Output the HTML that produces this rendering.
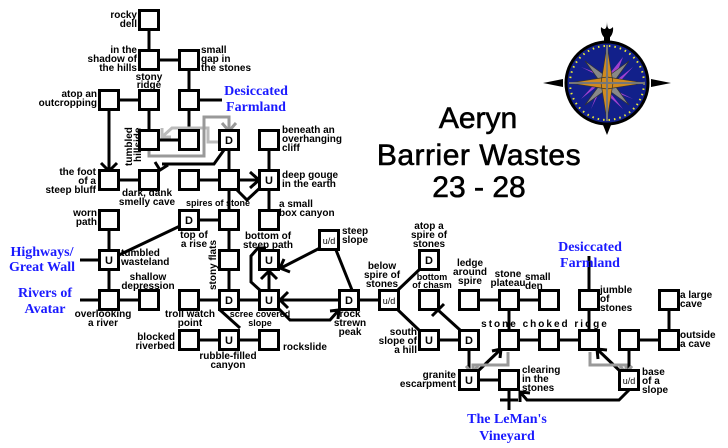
<!DOCTYPE html>
<html><head><meta charset="utf-8"><style>
html,body{margin:0;padding:0;background:#fff;}
svg{display:block;}
.t{font-family:"Liberation Sans",sans-serif;font-weight:bold;font-size:10px;fill:#000;}
.b{font-family:"Liberation Serif",serif;font-weight:bold;font-size:14px;fill:#1a1aff;}
.ti{font-family:"Liberation Sans",sans-serif;font-size:30px;fill:#000;stroke:#000;stroke-width:0.6;}
.bx{fill:#fff;stroke:#000;stroke-width:3;}
.bl{font-family:"Liberation Sans",sans-serif;font-weight:bold;font-size:11px;}
</style></head><body>
<svg width="728" height="448" viewBox="0 0 728 448" xmlns="http://www.w3.org/2000/svg">
<g fill="none" stroke="#000" stroke-width="3" stroke-linejoin="miter">
<path d="M149 20V60M149 60H189M189 60V140M189 100H222M109 100H149M149 100V140M149 140H189"/>
<path d="M109 100V172M101 163L109 171L117 163"/>
<path d="M224 150L214 164H162M155 162L160 170L168 165"/>
<path d="M229 140V300M269 140V220M109 180H149M189 180H258M250 172L259 180L250 188M237 190L247 200L262 186"/>
<path d="M189 220H229M109 220V300M119 255L180 226M80 260H109M80 300H149M189 300H269"/>
<path d="M269 300V271M261 279L269 271L277 279M280 300H389M288 292L280 300L288 308"/>
<path d="M262 292L251 282V256L258 248H266M278 308L290 320H330L338 311M330 311L339 310L338 319"/>
<path d="M320 248L281 268M284 259L280 268L290 272M336 250L352 290"/>
<path d="M220 310L240 328M189 340H269"/>
<path d="M360 300H389M398 290L421 268M398 310L421 332M429 340H469M460 330L438 310M432 316L444 304"/>
<path d="M469 300H549M509 300V340M509 340H589M589 340V256M629 340H669M669 300V340M629 340V380M469 340V380M469 380H509"/>
<path d="M477 372L500 350M492 351L501 349L500 358"/>
<path d="M622 373L598 350M598 359L597 349L607 350"/>
<path d="M629 390L619 400H527L521 393M520 402L520 392L530 393"/>
<path d="M509 380V410M500 400H518"/>
</g>
<g fill="none" stroke-width="3">
<path stroke="#bbb" d="M219 142H208V128H172L163 136M162 128L162 137L171 137"/>
<path stroke="#999" d="M149 150V156H204V117H229V129M222 123L229 131L236 123"/>
<path stroke="#999" d="M508 352V365H473V372M466 366L472 373L478 366"/>
<path stroke="#999" d="M590 352V365H626V372M620 366L626 373L632 366"/>
</g>
<g>
<rect class="bx" x="139.5" y="10.5" width="19" height="19"/>
<rect class="bx" x="139.5" y="50.5" width="19" height="19"/>
<rect class="bx" x="179.5" y="50.5" width="19" height="19"/>
<rect class="bx" x="99.5" y="90.5" width="19" height="19"/>
<rect class="bx" x="139.5" y="90.5" width="19" height="19"/>
<rect class="bx" x="179.5" y="90.5" width="19" height="19"/>
<rect class="bx" x="139.5" y="130.5" width="19" height="19"/>
<rect class="bx" x="179.5" y="130.5" width="19" height="19"/>
<rect class="bx" x="219.5" y="130.5" width="19" height="19"/>
<rect class="bx" x="259.5" y="130.5" width="19" height="19"/>
<rect class="bx" x="99.5" y="170.5" width="19" height="19"/>
<rect class="bx" x="139.5" y="170.5" width="19" height="19"/>
<rect class="bx" x="179.5" y="170.5" width="19" height="19"/>
<rect class="bx" x="219.5" y="170.5" width="19" height="19"/>
<rect class="bx" x="259.5" y="170.5" width="19" height="19"/>
<rect class="bx" x="99.5" y="210.5" width="19" height="19"/>
<rect class="bx" x="179.5" y="210.5" width="19" height="19"/>
<rect class="bx" x="219.5" y="210.5" width="19" height="19"/>
<rect class="bx" x="259.5" y="210.5" width="19" height="19"/>
<rect class="bx" x="99.5" y="250.5" width="19" height="19"/>
<rect class="bx" x="219.5" y="250.5" width="19" height="19"/>
<rect class="bx" x="259.5" y="250.5" width="19" height="19"/>
<rect class="bx" x="319.5" y="230.5" width="19" height="19"/>
<rect class="bx" x="99.5" y="290.5" width="19" height="19"/>
<rect class="bx" x="139.5" y="290.5" width="19" height="19"/>
<rect class="bx" x="179.5" y="290.5" width="19" height="19"/>
<rect class="bx" x="219.5" y="290.5" width="19" height="19"/>
<rect class="bx" x="259.5" y="290.5" width="19" height="19"/>
<rect class="bx" x="339.5" y="290.5" width="19" height="19"/>
<rect class="bx" x="379.5" y="290.5" width="19" height="19"/>
<rect class="bx" x="179.5" y="330.5" width="19" height="19"/>
<rect class="bx" x="219.5" y="330.5" width="19" height="19"/>
<rect class="bx" x="259.5" y="330.5" width="19" height="19"/>
<rect class="bx" x="419.5" y="250.5" width="19" height="19"/>
<rect class="bx" x="419.5" y="290.5" width="19" height="19"/>
<rect class="bx" x="459.5" y="290.5" width="19" height="19"/>
<rect class="bx" x="499.5" y="290.5" width="19" height="19"/>
<rect class="bx" x="539.5" y="290.5" width="19" height="19"/>
<rect class="bx" x="579.5" y="290.5" width="19" height="19"/>
<rect class="bx" x="659.5" y="290.5" width="19" height="19"/>
<rect class="bx" x="419.5" y="330.5" width="19" height="19"/>
<rect class="bx" x="459.5" y="330.5" width="19" height="19"/>
<rect class="bx" x="499.5" y="330.5" width="19" height="19"/>
<rect class="bx" x="539.5" y="330.5" width="19" height="19"/>
<rect class="bx" x="579.5" y="330.5" width="19" height="19"/>
<rect class="bx" x="619.5" y="330.5" width="19" height="19"/>
<rect class="bx" x="659.5" y="330.5" width="19" height="19"/>
<rect class="bx" x="459.5" y="370.5" width="19" height="19"/>
<rect class="bx" x="499.5" y="370.5" width="19" height="19"/>
<rect class="bx" x="619.5" y="370.5" width="19" height="19"/>
</g>
<g class="bl" text-anchor="middle">
<text x="229" y="144">D</text><text x="269" y="184">U</text><text x="189" y="224">D</text>
<text x="109" y="264">U</text><text x="269" y="264">U</text>
<text x="329" y="244" font-size="9" font-weight="normal">u/d</text>
<text x="229" y="304">D</text><text x="269" y="304">U</text><text x="349" y="304">D</text>
<text x="389" y="304" font-size="9" font-weight="normal">u/d</text>
<text x="229" y="344">U</text><text x="429" y="264">D</text><text x="429" y="344">U</text>
<text x="469" y="344">D</text><text x="469" y="384">U</text>
<text x="629" y="384" font-size="9" font-weight="normal">u/d</text>
</g>
<g class="t">
<g text-anchor="end">
<text x="137" y="18">rocky</text><text x="137" y="27">dell</text>
<text x="137" y="53">in the</text><text x="137" y="62">shadow of</text><text x="137" y="71">the hills</text>
<text x="97" y="97">atop an</text><text x="97" y="106">outcropping</text>
<text x="96" y="175">the foot</text><text x="96" y="184">of a</text><text x="96" y="193">steep bluff</text>
<text x="97" y="216">worn</text><text x="97" y="225">path</text>
<text x="175" y="340">blocked</text><text x="175" y="349">riverbed</text>
<text x="417" y="335">south</text><text x="417" y="344">slope of</text><text x="417" y="353">a hill</text>
<text x="456" y="378">granite</text><text x="456" y="387">escarpment</text>
</g>
<g>
<text x="201" y="53">small</text><text x="201" y="62">gap in</text><text x="201" y="71">the stones</text>
<text x="282" y="133">beneath an</text><text x="282" y="142">overhanging</text><text x="282" y="151">cliff</text>
<text x="282" y="178">deep gouge</text><text x="282" y="187">in the earth</text>
<text x="279" y="207">a small</text><text x="279" y="216">box canyon</text>
<text x="342" y="234">steep</text><text x="342" y="243">slope</text>
<text x="121" y="256">tumbled</text><text x="121" y="265">wasteland</text>
<text x="283" y="350">rockslide</text>
<text x="525" y="280">small</text><text x="525" y="289">den</text>
<text x="600" y="293">jumble</text><text x="600" y="302">of</text><text x="600" y="311">stones</text>
<text x="680" y="298">a large</text><text x="680" y="307">cave</text>
<text x="680" y="338">outside</text><text x="680" y="347">a cave</text>
<text x="522" y="373">clearing</text><text x="522" y="382">in the</text><text x="522" y="391">stones</text>
<text x="642" y="375">base</text><text x="642" y="384">of a</text><text x="642" y="393">slope</text>
</g>
<g text-anchor="middle">
<text x="149" y="80">stony</text><text x="149" y="88">ridge</text>
<text x="147" y="196">dark, dank</text><text x="147" y="205">smelly cave</text>
<text x="218" y="206" font-size="9">spires of stone</text>
<text x="194" y="238">top of</text><text x="194" y="247">a rise</text>
<text x="268" y="239">bottom of</text><text x="268" y="248">steep path</text>
<text x="148" y="280">shallow</text><text x="148" y="289">depression</text>
<text x="103" y="317">overlooking</text><text x="103" y="326">a river</text>
<text x="190" y="317">troll watch</text><text x="190" y="326">point</text>
<text x="260" y="317" font-size="9">scree covered</text><text x="260" y="326" font-size="9">slope</text>
<text x="350" y="317">rock</text><text x="350" y="326">strewn</text><text x="350" y="335">peak</text>
<text x="228" y="359">rubble-filled</text><text x="228" y="368">canyon</text>
<text x="382" y="269">below</text><text x="382" y="278">spire of</text><text x="382" y="287">stones</text>
<text x="429" y="229">atop a</text><text x="429" y="238">spire of</text><text x="429" y="247">stones</text>
<text x="432" y="280" font-size="9">bottom</text><text x="432" y="288" font-size="9">of chasm</text>
<text x="470" y="266">ledge</text><text x="470" y="275">around</text><text x="470" y="284">spire</text>
<text x="508" y="277">stone</text><text x="508" y="286">plateau</text>
<text x="545" y="327" letter-spacing="2">stone choked ridge</text>
</g>
<text transform="translate(132,166) rotate(-90)">tumbled</text>
<text transform="translate(141,162) rotate(-90)">hillside</text>
<text transform="translate(216,290) rotate(-90)">stony flats</text>
</g>
<g class="b" text-anchor="middle">
<text x="256" y="95">Desiccated</text><text x="256" y="111">Farmland</text>
<text x="42" y="256">Highways/</text><text x="42" y="271">Great Wall</text>
<text x="45" y="297">Rivers of</text><text x="45" y="313">Avatar</text>
<text x="590" y="251">Desiccated</text><text x="590" y="267">Farmland</text>
<text x="507" y="423">The LeMan's</text><text x="507" y="440">Vineyard</text>
</g>
<g class="ti" text-anchor="middle">
<text x="478" y="128">Aeryn</text>
<text x="479" y="165" letter-spacing="0.5">Barrier Wastes</text>
<text x="479" y="197">23 - 28</text>
</g>
<g transform="translate(607,83)">
<path d="M-6-56Q0-50 0-62Q0-50 6-56Q7-48 0-43Q-7-48-6-56ZM-3-46H3V-40H-3Z" fill="#000"/>
<path d="M-64 0L-44-4V4ZM64 0L44-4V4ZM0 52L-4 42H4Z" fill="#000"/>
<circle r="41" fill="#12208a" stroke="#000" stroke-width="3"/>
<circle r="37" fill="none" stroke="#ee3" stroke-width="2" stroke-dasharray="1.5 4"/>
<path d="M0 -6L16-26L6 0L26-16L6 6L26 16L0 6L16 26L-6 6L-16 26L-6 0L-26 16L-6-6L-26-16L0-6L-16-26Z" fill="#a040d0"/>
<path d="M0-6L22-22L6 0L22 22L0 6L-22 22L-6 0L-22-22Z" fill="#888" stroke="#333" stroke-width="0.7"/>
<path d="M0-38L6 0L0 38L-6 0Z M-38 0L0-6L38 0L0 6Z" fill="#d08a20" stroke="#333" stroke-width="0.7"/>
<path d="M0-38L0 38M-38 0L38 0" stroke="#777" stroke-width="2"/>
</g>
</svg>
</body></html>
